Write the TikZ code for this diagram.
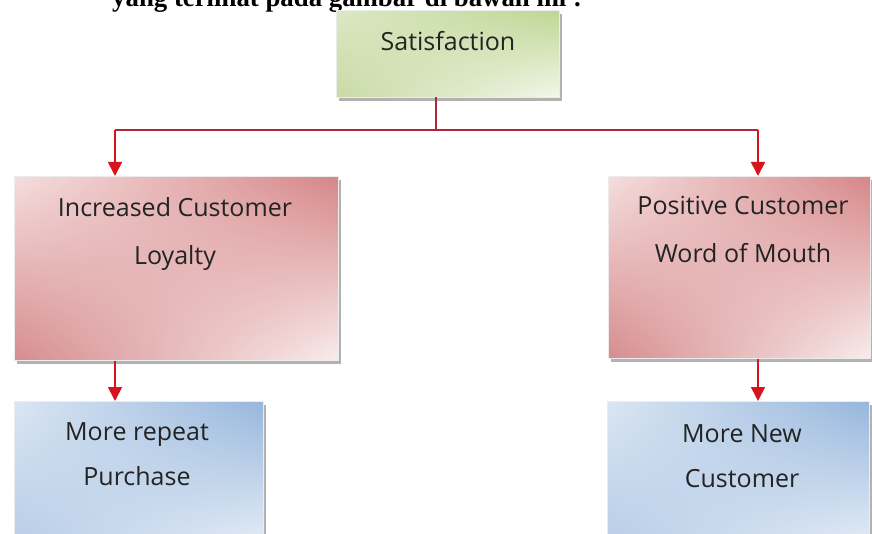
\documentclass[tikz,border=0pt]{standalone}
\usepackage{fontspec}
\setmainfont{Liberation Serif}
\newfontfamily\boxfont{Open Sans}
\usetikzlibrary{arrows.meta,shadows,shadings}
\definecolor{lineRed}{RGB}{170,40,55}
\definecolor{arrRed}{RGB}{215,20,30}
\definecolor{txtGray}{RGB}{35,35,35}
\definecolor{gA}{RGB}{220,232,196}
\definecolor{gB}{RGB}{190,214,148}
\definecolor{gC}{RGB}{200,218,165}
\definecolor{gD}{RGB}{243,247,234}
\definecolor{rA}{RGB}{245,222,222}
\definecolor{rB}{RGB}{214,134,136}
\definecolor{rC}{RGB}{214,140,142}
\definecolor{rD}{RGB}{249,236,236}
\definecolor{bA}{RGB}{218,230,243}
\definecolor{bB}{RGB}{150,182,220}
\definecolor{bC}{RGB}{182,203,230}
\definecolor{bD}{RGB}{232,239,248}
\begin{document}
\begin{tikzpicture}[x=1pt,y=-1pt,
  box/.style={rectangle, inner sep=0pt, anchor=north west, draw=white!85!gray, line width=0.5pt,
    drop shadow={shadow xshift=3pt, shadow yshift=-4pt, fill=black!55, opacity=0.55}},
  greenbox/.style={box, shade, upper left=gA, upper right=gB, lower left=gC, lower right=gD},
  redbox/.style={box, shade, upper left=rA, upper right=rB, lower left=rC, lower right=rD},
  bluebox/.style={box, shade, upper left=bA, upper right=bB, lower left=bC, lower right=bD},
  lbl/.style={font=\boxfont\fontsize{25}{48}\selectfont, text=txtGray, align=center, anchor=base, inner sep=0pt},
  lblb/.style={font=\boxfont\fontsize{25}{44.5}\selectfont, text=txtGray, align=center, anchor=base, inner sep=0pt},
  conn/.style={draw=lineRed, line width=1.7pt},
  arr/.style={draw=arrRed, line width=1.7pt, -{Triangle[length=14pt,width=14pt]}}
]
\useasboundingbox (0,0) rectangle (872,534);

\node[font=\bfseries\fontsize{26.8}{30}\selectfont, anchor=base west, inner sep=0pt] (head) at (112,7) {yang terlihat pada gambar di bawah ini :};

\node[greenbox, minimum width=223pt, minimum height=87pt] (sat) at (336,10) {};
\node[lbl] (satT) at (448,51) {Satisfaction};

\node[redbox, minimum width=324pt, minimum height=184pt] (inc) at (14,176) {};
\node[lbl] (incT) at (175,265) {Increased Customer\\Loyalty};

\node[redbox, minimum width=262pt, minimum height=182pt] (pos) at (608,176) {};
\node[lbl] (posT) at (743,263) {Positive Customer\\Word of Mouth};

\node[bluebox, minimum width=249pt, minimum height=150pt] (rep) at (14,401) {};
\node[lblb] (repT) at (137,485) {More repeat\\Purchase};

\node[bluebox, minimum width=262pt, minimum height=150pt] (new) at (607,401) {};
\node[lblb] (newT) at (742,487) {More New\\Customer};

\coordinate (j) at (436,130);
\coordinate (jl) at (115,130);
\coordinate (jr) at (758,130);

\draw[conn] (sat.south -| j) -- (j);
\draw[conn] (jl) -- (jr);
\draw[arr] (jl) -- (jl |- inc.north);
\draw[arr] (jr) -- (jr |- pos.north);
\draw[arr] (jl |- inc.south) -- (jl |- rep.north);
\draw[arr] (jr |- pos.south) -- (jr |- new.north);
\end{tikzpicture}
\end{document}
